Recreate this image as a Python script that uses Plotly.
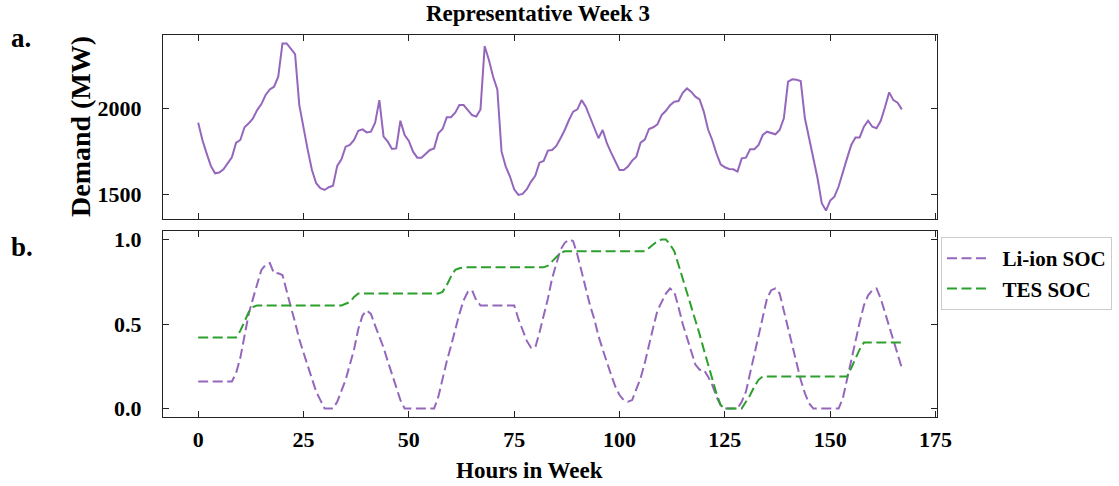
import plotly.graph_objects as go

# ---- data ----------------------------------------------------------------
hours = list(range(168))

demand_mw = [
    1917, 1816, 1738, 1665, 1622, 1626, 1645, 1684, 1715, 1800,
    1816, 1890, 1913, 1942, 1990, 2025, 2078, 2110, 2126, 2184,
    2378, 2378, 2349, 2316, 2019, 1884, 1758, 1641, 1564, 1535,
    1525, 1541, 1550, 1665, 1703, 1777, 1787, 1816, 1870, 1878,
    1860, 1864, 1917, 2048, 1835, 1806, 1764, 1767, 1928, 1845,
    1810, 1748, 1713, 1713, 1738, 1758, 1767, 1855, 1880, 1948,
    1948, 1975, 2019, 2019, 1990, 1961, 1952, 1994, 2362, 2281,
    2184, 2110, 1748, 1661, 1603, 1529, 1496, 1502, 1529, 1574,
    1607, 1684, 1694, 1754, 1758, 1781, 1826, 1874, 1932, 1981,
    1994, 2048, 2010, 1948, 1884, 1826, 1874, 1797, 1742, 1690,
    1641, 1641, 1661, 1696, 1719, 1800, 1818, 1880, 1890, 1907,
    1961, 1986, 2019, 2039, 2043, 2091, 2116, 2097, 2068, 2052,
    1981, 1878, 1816, 1738, 1674, 1657, 1647, 1645, 1632, 1709,
    1713, 1762, 1762, 1787, 1845, 1864, 1855, 1849, 1874, 1942,
    2155, 2169, 2166, 2159, 1942, 1826, 1723, 1593, 1448, 1405,
    1463, 1486, 1545, 1632, 1709, 1787, 1831, 1831, 1893, 1928,
    1893, 1884, 1928, 2006, 2093, 2048, 2033, 1994,
]

liion_soc = [
    0.16, 0.16, 0.16, 0.16, 0.16, 0.16, 0.16, 0.16, 0.16, 0.21,
    0.30, 0.43, 0.56, 0.65, 0.74, 0.82, 0.85, 0.86, 0.80, 0.80,
    0.79, 0.69, 0.60, 0.51, 0.41, 0.33, 0.25, 0.17, 0.10, 0.05,
    0.00, 0.00, 0.00, 0.04, 0.10, 0.17, 0.26, 0.35, 0.47, 0.55,
    0.58, 0.56, 0.49, 0.43, 0.36, 0.28, 0.20, 0.13, 0.05, 0.00,
    0.00, 0.00, 0.00, 0.00, 0.00, 0.00, 0.00, 0.07, 0.18, 0.28,
    0.37, 0.47, 0.56, 0.64, 0.69, 0.70, 0.64, 0.61, 0.61, 0.61,
    0.61, 0.61, 0.61, 0.61, 0.61, 0.61, 0.53, 0.46, 0.40, 0.36,
    0.36, 0.45, 0.55, 0.65, 0.77, 0.86, 0.94, 0.98, 1.00, 0.99,
    0.91, 0.81, 0.71, 0.61, 0.53, 0.43, 0.35, 0.27, 0.20, 0.13,
    0.08, 0.05, 0.04, 0.05, 0.11, 0.18, 0.27, 0.38, 0.48, 0.58,
    0.63, 0.68, 0.71, 0.69, 0.60, 0.50, 0.42, 0.34, 0.26, 0.23,
    0.23, 0.19, 0.14, 0.07, 0.02, 0.00, 0.00, 0.00, 0.00, 0.04,
    0.10, 0.21, 0.32, 0.44, 0.56, 0.65, 0.70, 0.71, 0.68, 0.58,
    0.47, 0.37, 0.27, 0.17, 0.09, 0.03, 0.00, 0.00, 0.00, 0.00,
    0.00, 0.00, 0.00, 0.06, 0.17, 0.30, 0.41, 0.51, 0.61, 0.67,
    0.70, 0.71, 0.65, 0.57, 0.49, 0.40, 0.32, 0.24,
]

tes_soc = [
    0.42, 0.42, 0.42, 0.42, 0.42, 0.42, 0.42, 0.42, 0.42, 0.42,
    0.46, 0.52, 0.57, 0.60, 0.61, 0.61, 0.61, 0.61, 0.61, 0.61,
    0.61, 0.61, 0.61, 0.61, 0.61, 0.61, 0.61, 0.61, 0.61, 0.61,
    0.61, 0.61, 0.61, 0.61, 0.61, 0.62, 0.63, 0.66, 0.68, 0.68,
    0.68, 0.68, 0.68, 0.68, 0.68, 0.68, 0.68, 0.68, 0.68, 0.68,
    0.68, 0.68, 0.68, 0.68, 0.68, 0.68, 0.68, 0.68, 0.69, 0.73,
    0.78, 0.82, 0.83, 0.835, 0.835, 0.835, 0.835, 0.835, 0.835, 0.835,
    0.835, 0.835, 0.835, 0.835, 0.835, 0.835, 0.835, 0.835, 0.835, 0.835,
    0.835, 0.835, 0.835, 0.845, 0.87, 0.90, 0.92, 0.93, 0.93, 0.93,
    0.93, 0.93, 0.93, 0.93, 0.93, 0.93, 0.93, 0.93, 0.93, 0.93,
    0.93, 0.93, 0.93, 0.93, 0.93, 0.93, 0.93, 0.95, 0.97, 0.99,
    1.00, 1.00, 0.97, 0.93, 0.85, 0.77, 0.69, 0.61, 0.53, 0.44,
    0.35, 0.26, 0.17, 0.09, 0.02, 0.00, 0.00, 0.00, 0.00, 0.00,
    0.04, 0.08, 0.13, 0.17, 0.19, 0.19, 0.19, 0.19, 0.19, 0.19,
    0.19, 0.19, 0.19, 0.19, 0.19, 0.19, 0.19, 0.19, 0.19, 0.19,
    0.19, 0.19, 0.19, 0.19, 0.19, 0.24, 0.30, 0.35, 0.39, 0.39,
    0.39, 0.39, 0.39, 0.39, 0.39, 0.39, 0.39, 0.39,
]

x_ticks = [0, 25, 50, 75, 100, 125, 150, 175]
demand_ticks = [1500, 2000]
soc_ticks = [0.0, 0.5, 1.0]

# ---- styling -------------------------------------------------------------
W, H = 1119, 486
SERIF = "Liberation Serif, Times New Roman, serif"
PURPLE = "#9467bd"
GREEN = "#2ca02c"
DASH = "10px,4.5px"
AXCOL = "#222222"
NBSP = "\u00a0"

# panel boxes in pixels
left_px, right_px = 163, 937
top_a, bot_a = 35, 219
top_b, bot_b = 231, 417

def px_x(v):
    return v / W

def px_y(v):
    return 1 - v / H

x_lo, x_hi = -8.35, 175.35
d_lo, d_hi = 1356, 2427

fig = go.Figure()

fig.add_trace(go.Scatter(
    x=hours, y=demand_mw, mode="lines",
    line=dict(color=PURPLE, width=2),
    xaxis="x", yaxis="y", showlegend=False,
))
fig.add_trace(go.Scatter(
    x=hours, y=liion_soc, mode="lines", name=NBSP * 2 + "Li-ion SOC",
    line=dict(color=PURPLE, width=2, dash=DASH),
    xaxis="x2", yaxis="y2",
))
fig.add_trace(go.Scatter(
    x=hours, y=tes_soc, mode="lines", name=NBSP * 2 + "TES SOC",
    line=dict(color=GREEN, width=2, dash=DASH),
    xaxis="x2", yaxis="y2",
))

tickfont = dict(family=SERIF, size=22, color="black", weight="bold")

common_axis = dict(
    showline=True, linecolor=AXCOL, linewidth=1.2, mirror="ticks",
    ticks="inside", ticklen=6, tickwidth=1, tickcolor=AXCOL,
    showgrid=False, zeroline=False, tickfont=tickfont, automargin=False,
)

fig.update_layout(
    width=W, height=H,
    margin=dict(l=0, r=0, t=0, b=0, autoexpand=False),
    paper_bgcolor="white", plot_bgcolor="white",
    font=dict(family=SERIF, color="black"),
    xaxis=dict(
        domain=[px_x(left_px), px_x(right_px)], anchor="y",
        range=[x_lo, x_hi], tickvals=x_ticks, showticklabels=False,
        **common_axis,
    ),
    yaxis=dict(
        domain=[px_y(bot_a), px_y(top_a)], anchor="x",
        range=[d_lo, d_hi], tickvals=demand_ticks,
        ticklabelstandoff=16,
        **common_axis,
    ),
    xaxis2=dict(
        domain=[px_x(left_px), px_x(right_px)], anchor="y2",
        range=[x_lo, x_hi], tickvals=x_ticks,
        ticklabelstandoff=2,
        **common_axis,
    ),
    yaxis2=dict(
        domain=[px_y(bot_b), px_y(top_b)], anchor="x2",
        range=[-0.05, 1.05], tickvals=soc_ticks, tickformat=".1f",
        ticklabelstandoff=16,
        **common_axis,
    ),
    legend=dict(
        x=px_x(941), y=px_y(237), xanchor="left", yanchor="top",
        bgcolor="white", bordercolor="#cccccc", borderwidth=1,
        font=dict(family=SERIF, size=21, color="black", weight="bold"),
        itemwidth=40, tracegroupgap=6,
    ),
)

def label(text, x, y, size, **kw):
    fig.add_annotation(
        text=text, x=px_x(x), y=px_y(y), xref="paper", yref="paper",
        showarrow=False, font=dict(family=SERIF, size=size, color="black", weight="bold"),
        **kw,
    )

label("Representative Week 3", 538, 14, 23, xanchor="center", yanchor="middle")
label("Hours in Week", 529, 470, 23, xanchor="center", yanchor="middle")
label("Demand (MW)", 81, 127, 28, xanchor="center", yanchor="middle", textangle=-90)
label("a.", 9, 38, 27, xanchor="left", yanchor="middle")
label("b.", 9, 247, 27, xanchor="left", yanchor="middle")

fig.write_html("out.html")
